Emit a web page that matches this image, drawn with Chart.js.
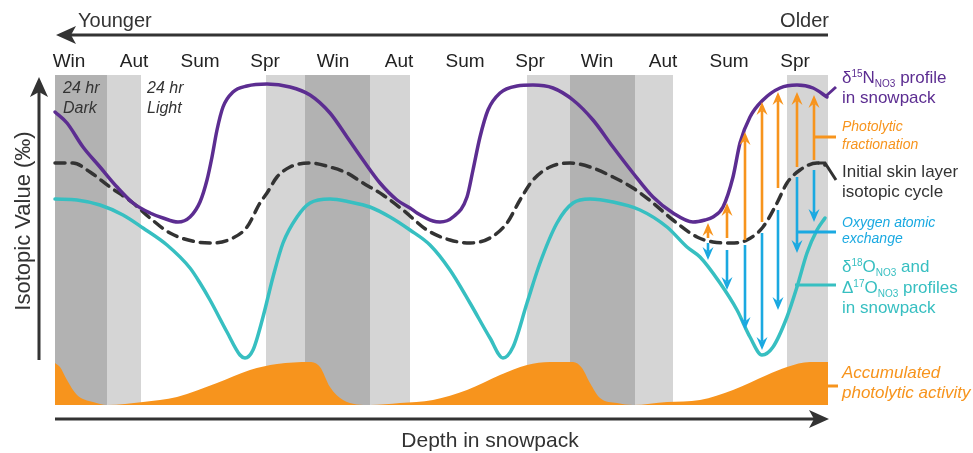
<!DOCTYPE html>
<html>
<head>
<meta charset="utf-8">
<script src="https://cdn.jsdelivr.net/npm/chart.js@4.4.1/dist/chart.umd.min.js"></script>
<style>
  html, body { margin: 0; padding: 0; background: #fff; }
</style>
</head>
<body>
<canvas id="snow" width="973" height="453"></canvas>
<script>
// x = depth position along the snowpack (surface/younger on the left)
// y = schematic isotopic value, 0 at the bottom of the plot
var seasons = ['Win','Aut','Sum','Spr','Win','Aut','Sum','Spr','Win','Aut','Sum','Spr'];
var seasonAt = [69,134,200,265,333,399,465,530,597,663,729,795];

var darkBands = [[55,107],[305,370],[570,635]];
var lightBands = [[107,141],[266,305],[370,410],[527,570],[635,673],[787,828]];

var n15Depth = [55,67,83,100,117,133,150,163,178,190,200,207,212,217,223,233,247,267,290,310,330,347,363,380,397,410,417,433,440,453,467,473,480,488,500,517,533,553,573,593,613,633,653,673,693,705,713,723,733,740,750,763,780,797,813,827];
var n15Value = [293,282,258,238,218,202,192,187,183,188,203,225,248,275,298,313,319,321,318,310,292,268,245,222,205,197,192,184,183,188,208,235,268,295,312,319,320,317,305,285,258,232,208,192,183,185,188,198,228,262,288,305,317,320,317,308];

var skinDepth = [55,73,90,110,133,150,170,197,213,233,247,260,267,277,290,310,330,347,363,383,403,427,450,470,490,507,520,533,550,570,590,613,633,653,673,697,713,730,747,763,777,787,800,817,825];
var skinValue = [242,242,233,218,202,187,172,163,162,167,178,202,212,228,238,242,238,232,222,210,195,175,165,162,167,182,205,225,238,242,238,228,217,202,185,168,163,162,165,178,202,222,235,242,240];

var o18Depth = [55,77,100,123,143,167,190,200,210,227,240,245,253,263,273,283,297,310,330,350,370,390,410,430,450,470,490,503,513,527,540,557,573,590,613,640,667,687,700,720,737,750,762,773,787,797,807,817,825];
var o18Value = [206,205,200,190,177,160,137,122,105,73,50,47,55,88,128,162,188,202,206,203,198,188,175,160,135,102,67,47,58,102,142,182,202,206,203,195,178,158,148,122,95,68,50,58,88,118,152,175,187];

var photoDepth = [55,60,67,77,93,107,143,177,217,250,277,310,320,330,343,370,400,433,467,500,527,550,573,582,590,600,617,633,667,700,733,767,787,810,828];
var photoValue = [42,38,25,10,3,0,3,8,22,35,41,43,38,18,5,0,2,5,15,30,40,43,43,37,22,7,2,0,3,5,15,30,38,43,43];

// arrows in the last spring: fractionation (up) and oxygen exchange (down)
var arrowDepth = [708,727,745,762,778,797,814];
var fracFrom = [167,167,165,183,217,238,245];
var fracTo = [182,202,273,303,313,313,310];
var exchFrom = [162,155,160,172,195,228,235];
var exchTo = [145,115,75,55,95,152,183];

var PURPLE = '#5c2d91', TEAL = '#37bfc1', ORANGE = '#f7941d', BLUE = '#1aa9e1', DARK = '#333333';
var FONT = '"Liberation Sans", Arial, sans-serif';

function pts(xs, ys) {
    return xs.map(function(x, i) { return {x: x, y: ys[i]} })
}

function arrow(ctx, x, y1, y2, color, w, len, half) {
    var dir = y2 < y1 ? -1 : 1;
    ctx.strokeStyle = color;
    ctx.fillStyle = color;
    ctx.lineWidth = w;
    ctx.beginPath();
    ctx.moveTo(x, y1);
    ctx.lineTo(x, y2 - dir * len * 0.65);
    ctx.stroke();
    ctx.beginPath();
    ctx.moveTo(x, y2);
    ctx.lineTo(x - half, y2 - dir * len);
    ctx.lineTo(x, y2 - dir * len * 0.65);
    ctx.lineTo(x + half, y2 - dir * len);
    ctx.closePath();
    ctx.fill();
}

function rich(ctx, x, y, parts, size, color, italic) {
    ctx.fillStyle = color;
    ctx.textAlign = 'left';
    ctx.textBaseline = 'alphabetic';
    parts.forEach(function(p) {
        var s = size, dy = 0;
        if (p[1] == 'sup') { s = Math.round(size * 0.6); dy = -size * 0.38 }
        if (p[1] == 'sub') { s = Math.round(size * 0.6); dy = size * 0.22 }
        ctx.font = (italic ? 'italic ' : '') + s + 'px ' + FONT;
        ctx.fillText(p[0], x, y + dy);
        x += ctx.measureText(p[0]).width;
    });
}

var decor = {
    id: 'decor',
    beforeDatasetsDraw: function(chart) {
        var ctx = chart.ctx, a = chart.chartArea, sx = chart.scales.x;
        ctx.save();
        ctx.fillStyle = '#d5d5d5';
        lightBands.forEach(function(b) {
            var l = sx.getPixelForValue(b[0]), r = sx.getPixelForValue(b[1]);
            ctx.fillRect(l, a.top, r - l, a.bottom - a.top);
        });
        ctx.fillStyle = '#b2b2b2';
        darkBands.forEach(function(b) {
            var l = sx.getPixelForValue(b[0]), r = sx.getPixelForValue(b[1]);
            ctx.fillRect(l, a.top, r - l, a.bottom - a.top);
        });
        ctx.restore();
    },
    afterDatasetsDraw: function(chart) {
        var ctx = chart.ctx, sx = chart.scales.x, sy = chart.scales.y;
        var X = function(v) { return sx.getPixelForValue(v) };
        var Y = function(v) { return sy.getPixelForValue(v) };
        ctx.save();
        arrowDepth.forEach(function(d, i) {
            arrow(ctx, X(d), Y(fracFrom[i]), Y(fracTo[i]), ORANGE, 2.6, 13, 5.5);
            arrow(ctx, X(d), Y(exchFrom[i]), Y(exchTo[i]), BLUE, 2.6, 13, 5.5);
        });

        // leader lines to the labels on the right
        ctx.lineWidth = 3;
        ctx.lineCap = 'butt';
        var lead = function(color, p) {
            ctx.strokeStyle = color;
            ctx.beginPath();
            ctx.moveTo(X(p[0][0]), Y(p[0][1]));
            for (var k = 1; k < p.length; k++) ctx.lineTo(X(p[k][0]), Y(p[k][1]));
            ctx.stroke();
        };
        lead(PURPLE, [[826, 309], [836, 318]]);
        lead(ORANGE, [[814, 268], [836, 268]]);
        lead(DARK, [[818, 242], [825, 242], [836, 225]]);
        lead(BLUE, [[797, 173], [836, 173]]);
        lead(TEAL, [[795, 120], [836, 120]]);
        lead(ORANGE, [[828, 19], [838, 19]]);
        ctx.restore();
    },
    afterDraw: function(chart) {
        var ctx = chart.ctx, sx = chart.scales.x;
        ctx.save();

        // season names along the top
        ctx.fillStyle = '#222';
        ctx.font = '19px ' + FONT;
        ctx.textAlign = 'center';
        ctx.textBaseline = 'alphabetic';
        seasons.forEach(function(s, i) {
            ctx.fillText(s, sx.getPixelForValue(seasonAt[i]), 67);
        });

        // age arrow (top), depth arrow (bottom), value arrow (left)
        ctx.fillStyle = DARK;
        ctx.strokeStyle = DARK;
        ctx.lineWidth = 3;
        ctx.beginPath(); ctx.moveTo(828, 35); ctx.lineTo(70, 35); ctx.stroke();
        ctx.beginPath(); ctx.moveTo(56, 35); ctx.lineTo(76, 26); ctx.lineTo(71, 35); ctx.lineTo(76, 44); ctx.closePath(); ctx.fill();
        ctx.beginPath(); ctx.moveTo(55, 419); ctx.lineTo(814, 419); ctx.stroke();
        ctx.beginPath(); ctx.moveTo(829, 419); ctx.lineTo(809, 410); ctx.lineTo(814, 419); ctx.lineTo(809, 428); ctx.closePath(); ctx.fill();
        ctx.beginPath(); ctx.moveTo(39, 360); ctx.lineTo(39, 92); ctx.stroke();
        ctx.beginPath(); ctx.moveTo(39, 77); ctx.lineTo(30, 97); ctx.lineTo(39, 92); ctx.lineTo(48, 97); ctx.closePath(); ctx.fill();

        ctx.font = '20px ' + FONT;
        ctx.textAlign = 'left';
        ctx.fillText('Younger', 78, 27);
        ctx.textAlign = 'right';
        ctx.fillText('Older', 829, 27);
        ctx.textAlign = 'center';
        ctx.font = '21px ' + FONT;
        ctx.fillText('Depth in snowpack', 490, 447);

        ctx.save();
        ctx.translate(30, 221);
        ctx.rotate(-Math.PI / 2);
        ctx.font = '22px ' + FONT;
        ctx.fillText('Isotopic Value (\u2030)', 0, 0);
        ctx.restore();

        // polar day / night notes
        ctx.fillStyle = DARK;
        ctx.font = 'italic 16px ' + FONT;
        ctx.textAlign = 'left';
        ctx.fillText('24 hr', 63, 93);
        ctx.fillText('Dark', 63, 113);
        ctx.fillText('24 hr', 147, 93);
        ctx.fillText('Light', 147, 113);

        // labels on the right
        var lx = 842;
        rich(ctx, lx, 83, [['\u03b4'], ['15', 'sup'], ['N'], ['NO3', 'sub'], [' profile']], 17, PURPLE);
        rich(ctx, lx, 103, [['in snowpack']], 17, PURPLE);
        rich(ctx, lx, 131, [['Photolytic']], 14, ORANGE, true);
        rich(ctx, lx, 149, [['fractionation']], 14, ORANGE, true);
        rich(ctx, lx, 177, [['Initial skin layer']], 17, DARK);
        rich(ctx, lx, 197, [['isotopic cycle']], 17, DARK);
        rich(ctx, lx, 227, [['Oxygen atomic']], 14, BLUE, true);
        rich(ctx, lx, 243, [['exchange']], 14, BLUE, true);
        rich(ctx, lx, 272, [['\u03b4'], ['18', 'sup'], ['O'], ['NO3', 'sub'], [' and']], 17, TEAL);
        rich(ctx, lx, 293, [['\u0394'], ['17', 'sup'], ['O'], ['NO3', 'sub'], [' profiles']], 17, TEAL);
        rich(ctx, lx, 313, [['in snowpack']], 17, TEAL);
        rich(ctx, lx, 378, [['Accumulated']], 17, ORANGE, true);
        rich(ctx, lx, 398, [['photolytic activity']], 17, ORANGE, true);
        ctx.restore();
    }
};

var ctx = document.getElementById('snow').getContext('2d');
var snowChart = new Chart(ctx, {
    type: 'line',
    data: {
        datasets: [{
            label: 'd15N',
            data: pts(n15Depth, n15Value),
            borderColor: PURPLE,
            borderWidth: 3.5,
            order: 1
        }, {
            label: 'Initial skin layer',
            data: pts(skinDepth, skinValue),
            borderColor: DARK,
            borderWidth: 3.5,
            borderDash: [10, 7],
            order: 2
        }, {
            label: 'd18O / D17O',
            data: pts(o18Depth, o18Value),
            borderColor: TEAL,
            borderWidth: 3.5,
            order: 3
        }, {
            label: 'Accumulated photolytic activity',
            data: pts(photoDepth, photoValue),
            borderWidth: 0,
            backgroundColor: ORANGE,
            fill: 'origin',
            order: 4
        }]
    },
    options: {
        responsive: false,
        animation: false,
        events: [],
        layout: { padding: { left: 55, right: 145, top: 75, bottom: 48 } },
        elements: {
            point: { radius: 0 },
            line: { cubicInterpolationMode: 'monotone', borderCapStyle: 'round' }
        },
        scales: {
            x: { type: 'linear', min: 55, max: 828, display: false },
            y: { min: 0, max: 330, display: false }
        },
        plugins: {
            legend: { display: false },
            tooltip: { enabled: false }
        },
        clip: false
    },
    plugins: [decor]
});
</script>
</body>
</html>
